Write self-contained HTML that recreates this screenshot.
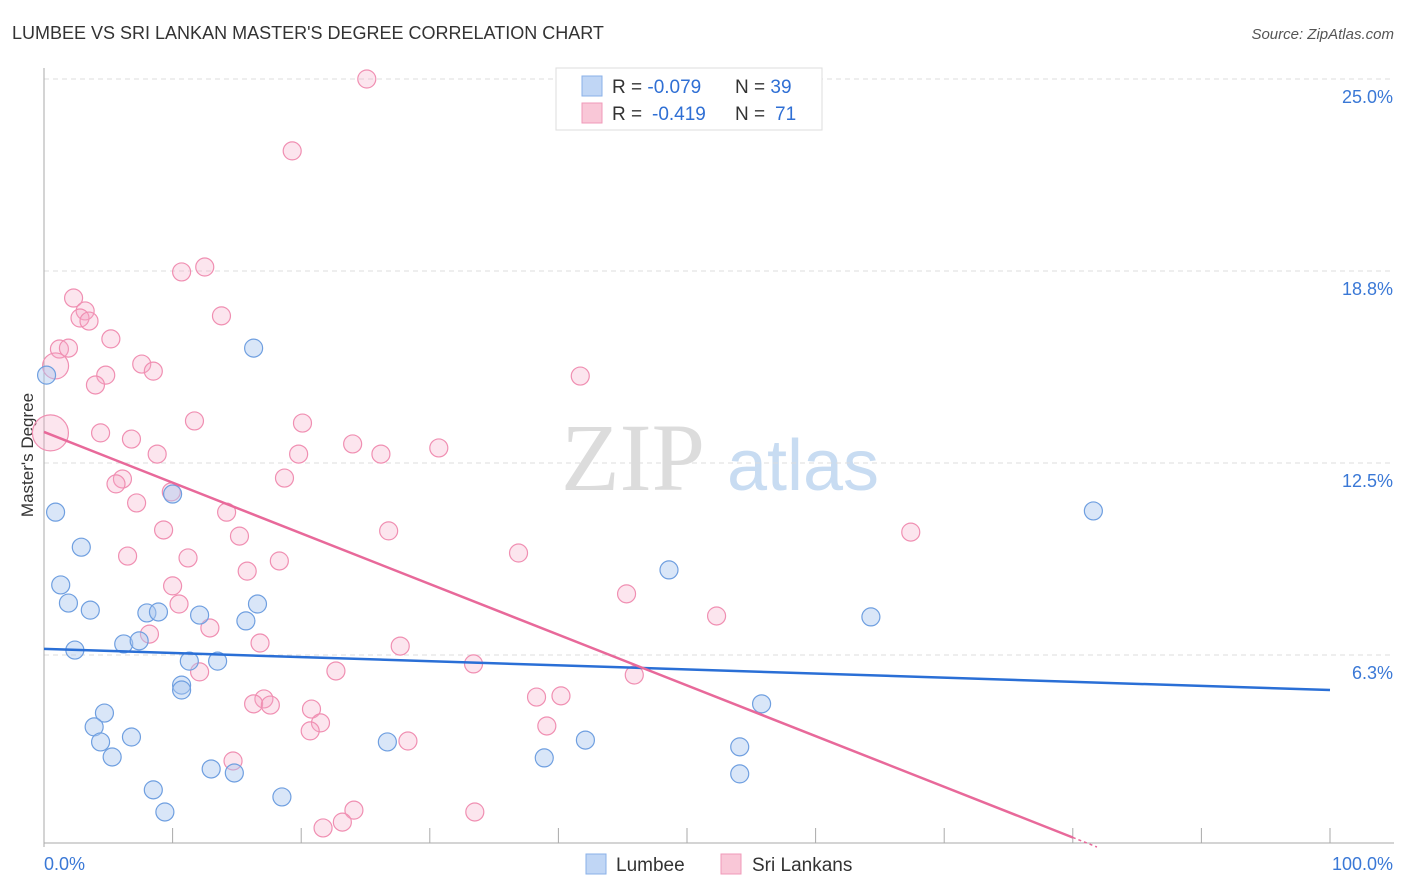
<!DOCTYPE html>
<html><head><meta charset="utf-8"><style>
body{margin:0;background:#fff;font-family:"Liberation Sans",sans-serif}
svg{display:block}
</style></head><body>
<svg id="c" width="1406" height="892">
<text x="12" y="39" font-size="18" fill="#333">LUMBEE VS SRI LANKAN MASTER'S DEGREE CORRELATION CHART</text>
<text x="1394" y="39" font-size="15" fill="#555" font-style="italic" text-anchor="end">Source: ZipAtlas.com</text>
<text transform="translate(33,455) rotate(-90)" font-size="17" fill="#333" text-anchor="middle">Master's Degree</text>
<g><text x="633" y="490" font-size="96" fill="#dcdcdc" font-family="Liberation Serif,serif" text-anchor="middle">ZIP</text><text x="803" y="490" font-size="72" fill="#c8dcf2" text-anchor="middle">atlas</text></g>
<g id="grid"></g><g id="axes"></g><g id="pts"></g><g id="lines"></g>
<g>
<rect x="556" y="68" width="266" height="62" fill="#fff" stroke="#ddd"/>
<rect x="582" y="76" width="20" height="20" fill="#c0d6f5" stroke="#8ab0e8"/>
<rect x="582" y="103" width="20" height="20" fill="#f9c7d7" stroke="#f09ab8"/>
<text x="612" y="93" font-size="19" fill="#333">R = <tspan fill="#2f6fd4">-0.079</tspan><tspan x="735">N = </tspan><tspan fill="#2f6fd4">39</tspan></text>
<text x="612" y="120" font-size="19" fill="#333">R = <tspan x="652" fill="#2f6fd4">-0.419</tspan><tspan x="735">N = </tspan><tspan x="775" fill="#2f6fd4">71</tspan></text>
</g>
<g>
<rect x="586" y="854" width="20" height="20" fill="#c0d6f5" stroke="#8ab0e8"/><text x="616" y="871" font-size="19" fill="#333">Lumbee</text>
<rect x="721" y="854" width="20" height="20" fill="#f9c7d7" stroke="#f09ab8"/><text x="752" y="871" font-size="19" fill="#333">Sri Lankans</text>
</g>
</svg>
<script>
const yTicks=[6.3,12.5,18.8,25.0];
const yTickLabels=["6.3%","12.5%","18.8%","25.0%"];
const xTickLabels=["0.0%","100.0%"];
const lumbeeX=[0.2,0.9,16.3,2.9,1.3,1.9,3.6,2.4,6.2,7.4,8.0,8.9,10.0,12.1,15.7,16.6,11.3,13.5,10.7,10.7,4.7,3.9,4.4,6.8,5.3,8.5,9.4,13.0,14.8,18.5,26.7,38.9,42.1,48.6,54.1,54.1,55.8,64.3,81.6];
const lumbeeY=[15.36,10.9,16.24,9.76,8.53,7.94,7.71,6.41,6.61,6.71,7.62,7.65,11.49,7.55,7.36,7.91,6.05,6.05,5.27,5.11,4.36,3.91,3.42,3.58,2.93,1.86,1.14,2.54,2.41,1.63,3.42,2.90,3.48,9.02,3.26,2.38,4.66,7.49,10.94];
const sriX=[25.1,19.3,10.7,12.5,2.3,3.2,2.8,3.5,13.8,5.2,1.2,1.9,0.9,7.6,8.5,4.8,4.0,41.7,11.7,20.1,4.4,6.8,24.0,30.7,8.8,19.8,26.2,18.7,6.1,5.6,9.9,7.2,14.2,9.3,26.8,15.2,67.4,36.9,6.5,11.2,18.3,15.8,10.0,45.3,10.5,52.3,12.9,8.2,16.8,27.7,33.4,22.7,12.1,45.9,38.3,40.2,17.1,16.3,17.6,20.8,21.5,20.7,39.1,28.3,14.7,24.1,23.2,21.7,33.5,0.5];
const sriY=[25.0,22.66,18.72,18.88,17.87,17.45,17.22,17.12,17.29,16.54,16.21,16.24,15.66,15.72,15.49,15.36,15.04,15.33,13.87,13.80,13.48,13.28,13.12,12.99,12.79,12.79,12.79,12.01,11.98,11.82,11.56,11.20,10.90,10.32,10.29,10.12,10.25,9.57,9.47,9.41,9.31,8.98,8.50,8.24,7.91,7.52,7.13,6.93,6.64,6.54,5.96,5.73,5.70,5.60,4.88,4.92,4.82,4.66,4.62,4.49,4.04,3.78,3.94,3.45,2.80,1.20,0.81,0.62,1.14,13.48];
const sriBig=[12,69];
const lumbeeTrend=[6.45,5.11];
const sriTrend=[13.51,-0.165];
const X=v=>44+v*12.86, Y=v=>847-v*30.72;
const NS="http://www.w3.org/2000/svg";
function mk(p,t,a){const e=document.createElementNS(NS,t);for(const k in a)e.setAttribute(k,a[k]);document.getElementById(p).appendChild(e);return e;}
const grid=[6.25,12.5,18.75,25];
grid.forEach((g,i)=>{const l=mk('grid','line',{x1:44,x2:1394,y1:Y(g),y2:Y(g),stroke:'#ddd','stroke-dasharray':'5,4'});


const t=mk('grid','text',{x:1393,y:Y(g)+24,'font-size':18,fill:'#3a78d6','text-anchor':'end'});t.textContent=yTickLabels[i];

});
let a=mk('axes','line',{x1:44,x2:44,y1:68,y2:847,stroke:'#aaa'});


a=mk('axes','line',{x1:44,x2:1394,y1:843,y2:843,stroke:'#aaa'});


for(let i=0;i<=10;i++){const t=mk('axes','line',{x1:X(i*10),x2:X(i*10),y1:828,y2:843,stroke:'#aaa'});

}
let t=mk('axes','text',{x:44,y:870,'font-size':18,fill:'#3a78d6'});t.textContent=xTickLabels[0];


t=mk('axes','text',{x:1393,y:870,'font-size':18,fill:'#3a78d6','text-anchor':'end'});t.textContent=xTickLabels[1];


sriX.forEach((x,i)=>{const r=i===69?18:(i===12?13:9);const c=mk('pts','circle',{cx:X(x),cy:Y(sriY[i]),r:r,fill:'rgba(246,170,198,0.3)',stroke:'#f08fb2','stroke-width':1.2});

});
lumbeeX.forEach((x,i)=>{const c=mk('pts','circle',{cx:X(x),cy:Y(lumbeeY[i]),r:9,fill:'rgba(170,200,240,0.45)',stroke:'#6f9fe0','stroke-width':1.2});

});
let l=mk('lines','line',{x1:X(0),y1:Y(lumbeeTrend[0]),x2:X(100),y2:Y(lumbeeTrend[1]),stroke:'#2a6fd6','stroke-width':2.5});


const xe=80;
l=mk('lines','line',{x1:X(0),y1:Y(sriTrend[0]),x2:X(xe),y2:Y(sriTrend[0]+sriTrend[1]*xe),stroke:'#e8699a','stroke-width':2.5});


const xz=-sriTrend[0]/sriTrend[1];
l=mk('lines','line',{x1:X(xe),y1:Y(sriTrend[0]+sriTrend[1]*xe),x2:X(xz),y2:Y(0),stroke:'#e8699a','stroke-width':1.5,'stroke-dasharray':'3,3'});


</script>
</body></html>
